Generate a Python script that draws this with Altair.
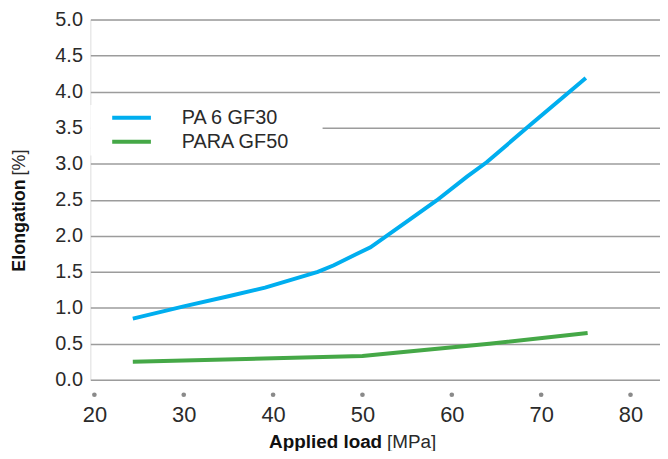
import altair as alt
import pandas as pd

# ---- data ----
series = ["PA 6 GF30", "PARA GF50"]
colors = ["#00AEEF", "#45A847"]

pa6_x = [24.3, 30, 35, 39.1, 45, 46.8, 49.4, 50.9, 55, 58.3, 61.7, 63.9, 68.7, 75]
pa6_y = [0.85, 1.02, 1.16, 1.28, 1.50, 1.59, 1.75, 1.84, 2.20, 2.49, 2.82, 3.02, 3.53, 4.19]

para_x = [24.3, 50, 54, 64.2, 75.2]
para_y = [0.25, 0.33, 0.38, 0.50, 0.65]

x_ticks = [20, 30, 40, 50, 60, 70, 80]
y_ticks = [0.0, 0.5, 1.0, 1.5, 2.0, 2.5, 3.0, 3.5, 4.0, 4.5, 5.0]

FONT = "Liberation Sans"
TEXT = "#2a2a2a"
GRID = "#9c9c9c"

df = pd.concat([
    pd.DataFrame({"series": series[0], "load": pa6_x, "elong": pa6_y, "order": range(len(pa6_x))}),
    pd.DataFrame({"series": series[1], "load": para_x, "elong": para_y, "order": range(len(para_x))}),
])
ticks_df = pd.DataFrame({"load": x_ticks})

W, H = 574, 363
xscale = alt.Scale(domain=[19.55, 83.3], nice=False, zero=False)
yscale = alt.Scale(domain=[0, 5], nice=False)
cscale = alt.Scale(domain=series, range=colors)

lines = alt.Chart(df).mark_line(strokeWidth=4, clip=False).encode(
    x=alt.X("load:Q", scale=xscale,
            axis=alt.Axis(values=x_ticks, title=None, domain=False, ticks=False, grid=False,
                          labelPadding=25, labelFontSize=22, labelColor=TEXT, labelFont=FONT,
                          format="d")),
    y=alt.Y("elong:Q", scale=yscale,
            axis=alt.Axis(values=y_ticks, title=None, domain=False, ticks=False, grid=True,
                          gridColor=GRID, gridWidth=1.5, labelPadding=8, labelFontSize=20,
                          labelColor=TEXT, labelFont=FONT, format=".1f")),
    color=alt.Color("series:N", scale=cscale, legend=None),
    order="order:Q",
)

dots = alt.Chart(ticks_df).mark_circle(size=22, color="#8a8a8a", opacity=1).encode(
    x=alt.X("load:Q", scale=xscale),
    y=alt.value(378),
)

# legend (white box over the gridline, two stroke symbols and labels)
legend_box = alt.Chart(ticks_df.head(1)).mark_rect(color="white").encode(
    x=alt.value(0), x2=alt.value(234), y=alt.value(86), y2=alt.value(137)
)
leg_layers = [legend_box]
for i, (name, col) in enumerate(zip(series, colors)):
    yy = 99 + 24 * i
    leg_layers.append(
        alt.Chart(ticks_df.head(1)).mark_rule(color=col, strokeWidth=4).encode(
            x=alt.value(22), x2=alt.value(61), y=alt.value(yy)
        )
    )
    leg_layers.append(
        alt.Chart(ticks_df.head(1)).mark_text(
            text=name, align="left", baseline="middle", font=FONT, fontSize=20, color=TEXT
        ).encode(x=alt.value(92), y=alt.value(yy))
    )

# axis titles: bold part + normal part
xt1 = alt.Chart(ticks_df.head(1)).mark_text(
    text="Applied load", align="right", baseline="middle", font=FONT, fontSize=19,
    fontWeight="bold", color="#111111"
).encode(x=alt.value(294), y=alt.value(426))
xt2 = alt.Chart(ticks_df.head(1)).mark_text(
    text="[MPa]", align="left", baseline="middle", font=FONT, fontSize=19, color=TEXT
).encode(x=alt.value(299), y=alt.value(426))
yt1 = alt.Chart(ticks_df.head(1)).mark_text(
    text="Elongation", align="right", baseline="middle", font=FONT, fontSize=18,
    fontWeight="bold", angle=270, color="#111111"
).encode(x=alt.value(-71), y=alt.value(161))
yt2 = alt.Chart(ticks_df.head(1)).mark_text(
    text="[%]", align="left", baseline="middle", font=FONT, fontSize=18, angle=270, color=TEXT
).encode(x=alt.value(-71), y=alt.value(157))

chart = alt.layer(lines, dots, *leg_layers, xt1, xt2, yt1, yt2).properties(
    width=W, height=H,
    autosize=alt.AutoSizeParams(type="none"),
    padding={"left": 83, "top": 10, "right": 0, "bottom": 70},
).configure_view(stroke=None).configure(background="white")

chart.save("out.html", embed_options={"renderer": "svg", "actions": False})
